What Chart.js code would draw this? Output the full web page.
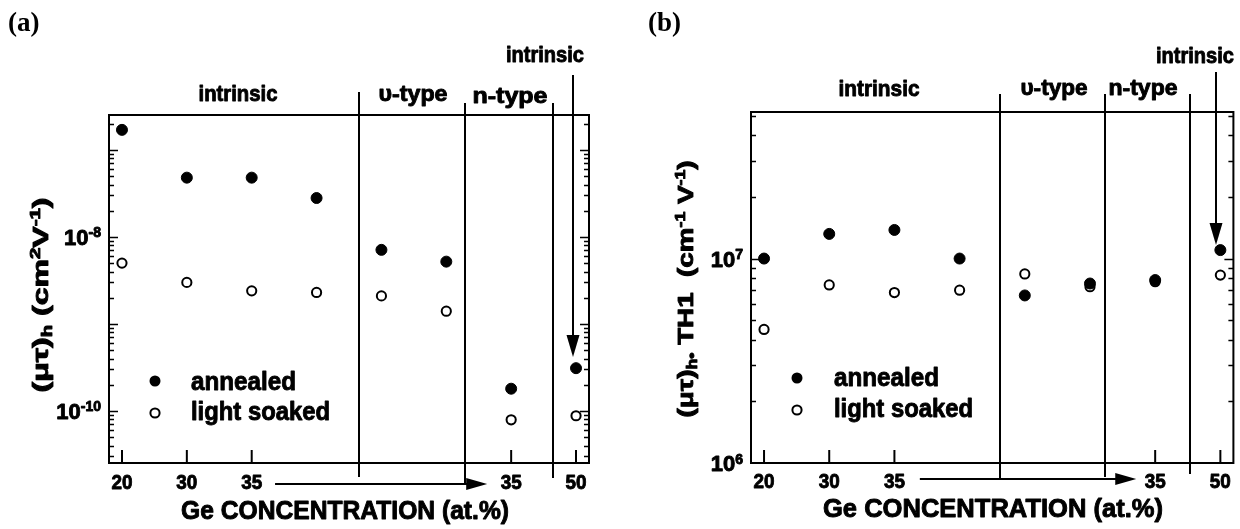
<!DOCTYPE html>
<html>
<head>
<meta charset="utf-8">
<script src="https://cdn.jsdelivr.net/npm/chart.js@4.4.1/dist/chart.umd.min.js"></script>
<style>
  html, body { margin: 0; padding: 0; background: #fff; }
  #wrap { position: relative; width: 1240px; height: 529px; overflow: hidden; }
  .panel { position: absolute; top: 0; width: 620px; height: 529px; }
  canvas { display: block; }
</style>
</head>
<body>
<div id="wrap">
  <div class="panel" style="left:0"><canvas id="chartA" width="620" height="529"></canvas></div>
  <div class="panel" style="left:620px"><canvas id="chartB" width="620" height="529"></canvas></div>
</div>
<script>
// Samples in deposition order along the x axis
const sampleIndex = [0, 1, 2, 3, 4, 5, 6, 7];
const xTickLabels = ['20', '30', '35', '', '', '', '35', '50'];
const seriesNames = ['annealed', 'light soaked'];

// (a) hole mobility-lifetime product (cm^2 V^-1)
const annealedA = [1.7e-7, 4.8e-8, 4.8e-8, 2.8e-8, 7.1e-9, 5.2e-9, 1.8e-10, 3.1e-10];
const soakedA   = [5.0e-9, 3.0e-9, 2.4e-9, 2.3e-9, 2.1e-9, 1.4e-9, 7.9e-11, 8.8e-11];
const yTickExpA = [-8, -10];

// (b) mu-tau product divided by thickness (cm^-1 V^-1)
const annealedB = [1.0e7, 1.32e7, 1.38e7, 1.0e7, 6.6e6, 7.55e6, 7.85e6, 1.1e7];
const soakedB   = [4.5e6, 7.43e6, 6.82e6, 7.0e6, 8.41e6, 7.28e6, 7.7e6, 8.3e6];
const yTickExpB = [7, 6];

// Boundaries between doping regions, in sample-index units
const regionNames = ['intrinsic', 'υ-type', 'n-type'];
const boundsA = [3.65, 5.29, 6.65];
const boundsB = [3.615, 5.224, 6.54];
// the last sample is intrinsic again
const lastIntrinsicA = 6.95;
const lastIntrinsicB = 6.94;
// horizontal arrow under the axis: the 35 at.% series continues
const seqArrowA = [2.36, 5.63];
const seqArrowB = [2.39, 5.71];

const FAMILY = "'Liberation Sans', Arial, Helvetica, sans-serif";

// Draws a run of normal / superscript / subscript pieces, optionally squeezed to a width
function drawRich(ctx, parts, o) {
  const size = o.size;
  const small = Math.round(size * (o.small || 0.62));
  const fontFor = k => `bold ${k === 'n' ? size : small}px ${FAMILY}`;
  let total = 0;
  const widths = parts.map(([t, k]) => {
    ctx.font = fontFor(k);
    const w = ctx.measureText(t).width;
    total += w;
    return w;
  });
  const sx = o.width ? o.width / total : 1;
  ctx.save();
  ctx.translate(o.x, o.y);
  if (o.rot) ctx.rotate(o.rot);
  ctx.scale(sx, 1);
  let cx = o.align === 'left' ? 0 : o.align === 'right' ? -total : -total / 2;
  ctx.textAlign = 'left';
  ctx.textBaseline = 'alphabetic';
  ctx.fillStyle = '#000';
  ctx.strokeStyle = '#000';
  ctx.lineWidth = 0.9;
  ctx.lineJoin = 'round';
  parts.forEach(([t, k], i) => {
    ctx.font = fontFor(k);
    const dy = k === 'sup' ? -size * (o.rise || 0.36) : k === 'sub' ? size * 0.2 : 0;
    ctx.fillText(t, cx, dy);
    ctx.strokeText(t, cx, dy);
    cx += widths[i];
  });
  ctx.restore();
}

function arrowHead(ctx, tipX, tipY, dir, len, half) {
  ctx.beginPath();
  if (dir === 'down') {
    ctx.moveTo(tipX, tipY);
    ctx.lineTo(tipX - half, tipY - len);
    ctx.lineTo(tipX + half, tipY - len);
  } else {
    ctx.moveTo(tipX, tipY);
    ctx.lineTo(tipX - len, tipY - half);
    ctx.lineTo(tipX - len, tipY + half);
  }
  ctx.closePath();
  ctx.fill();
}

function decorPlugin(p) {
  return {
    id: 'decor' + p.tag,
    afterDraw(chart) {
      const ctx = chart.ctx;
      const a = chart.chartArea;
      const xs = chart.scales.x, ys = chart.scales.y;
      ctx.save();
      ctx.strokeStyle = '#000';
      ctx.fillStyle = '#000';
      ctx.lineCap = 'butt';

      // frame
      ctx.lineWidth = 2;
      ctx.strokeRect(a.left, a.top, a.right - a.left, a.bottom - a.top);

      // logarithmic tick marks on both vertical sides, pointing inwards
      ctx.lineWidth = 1.5;
      const e0 = Math.floor(Math.log10(p.yMin)), e1 = Math.ceil(Math.log10(p.yMax));
      for (let e = e0; e <= e1; e++) {
        for (let k = 1; k <= 9; k++) {
          const v = k * Math.pow(10, e);
          if (v < p.yMin * 1.0001 || v > p.yMax * 0.9999) continue;
          const y = Math.round(ys.getPixelForValue(v)) + 0.5;
          const len = k === 1 ? 9 : 5;
          ctx.beginPath();
          ctx.moveTo(a.left, y); ctx.lineTo(a.left + len, y);
          ctx.moveTo(a.right, y); ctx.lineTo(a.right - len, y);
          ctx.stroke();
        }
      }

      // x tick marks and labels
      ctx.lineWidth = 2;
      xTickLabels.forEach((lab, i) => {
        if (!lab) return;
        const x = xs.getPixelForValue(sampleIndex[i]);
        ctx.beginPath();
        ctx.moveTo(x, a.bottom); ctx.lineTo(x, a.bottom - 13);
        ctx.stroke();
        drawRich(ctx, [[lab, 'n']], { x, y: p.xLabelBase, size: 21, width: 21 });
      });

      // y tick labels
      p.yExp.forEach(ex => {
        const y = ys.getPixelForValue(Math.pow(10, ex));
        drawRich(ctx, [['10', 'n'], [String(ex), 'sup']],
          { x: a.left - 8, y: y + 8, size: 22, small: 0.62, rise: 0.34, align: 'right' });
      });

      // region separators
      ctx.lineWidth = 2;
      p.bounds.forEach((b, i) => {
        const x = Math.round(xs.getPixelForValue(b));
        ctx.beginPath();
        ctx.moveTo(x, p.sepTop[i]); ctx.lineTo(x, p.sepBottom[i]);
        ctx.stroke();
      });

      // arrow to the last, intrinsic sample
      const ax = Math.round(xs.getPixelForValue(p.lastIntrinsic));
      ctx.beginPath();
      ctx.moveTo(ax, p.downArrow[0]); ctx.lineTo(ax, p.downArrow[1] - 10);
      ctx.stroke();
      arrowHead(ctx, ax, p.downArrow[1], 'down', 22, 6.5);

      // horizontal arrow below the axis
      const hx0 = xs.getPixelForValue(p.seqArrow[0]);
      const hx1 = xs.getPixelForValue(p.seqArrow[1]);
      ctx.beginPath();
      ctx.moveTo(hx0, p.seqY); ctx.lineTo(hx1 - 10, p.seqY);
      ctx.stroke();
      arrowHead(ctx, hx1, p.seqY, 'right', 21, 6);

      // region names
      p.regionText.forEach((r, i) => {
        drawRich(ctx, [[regionNames[i], 'n']], { x: r[0], y: r[1], size: 22, width: r[2] });
      });
      drawRich(ctx, [['intrinsic', 'n']], { x: p.topText[0], y: p.topText[1], size: 22, width: p.topText[2] });

      // axis titles
      drawRich(ctx, [['Ge CONCENTRATION (at.%)', 'n']],
        { x: p.xTitle[0], y: p.xTitle[1], size: 25, width: p.xTitle[2] });
      drawRich(ctx, p.yTitleParts,
        { x: p.yTitle[0], y: p.yTitle[1], size: 22, width: p.yTitle[2], rot: -Math.PI / 2, small: 0.65, rise: 0.38 });

      // legend
      const [lx, ly0, ly1, tx, tb0, tb1] = p.legend;
      ctx.beginPath(); ctx.arc(lx, ly0, 5.5, 0, Math.PI * 2); ctx.fill();
      ctx.lineWidth = 2;
      ctx.fillStyle = '#fff';
      ctx.beginPath(); ctx.arc(lx, ly1, 4.6, 0, Math.PI * 2); ctx.fill(); ctx.stroke();
      ctx.fillStyle = '#000';
      drawRich(ctx, [[seriesNames[0], 'n']], { x: tx, y: tb0, size: 26, width: 105, align: 'left' });
      drawRich(ctx, [[seriesNames[1], 'n']], { x: tx, y: tb1, size: 26, width: 139, align: 'left' });

      // panel letter
      ctx.font = "bold 27px 'Liberation Serif', 'Times New Roman', serif";
      ctx.textAlign = 'left';
      ctx.textBaseline = 'alphabetic';
      ctx.fillStyle = '#000';
      ctx.fillText(p.letter, p.letterPos[0], p.letterPos[1]);
      ctx.restore();
    }
  };
}

function makeChart(id, p) {
  const pts = vals => sampleIndex.map((x, i) => ({ x, y: vals[i] }));
  return new Chart(document.getElementById(id), {
    type: 'scatter',
    data: {
      datasets: [
        { label: seriesNames[0], data: pts(p.annealed), pointStyle: 'circle', pointRadius: 5.5,
          backgroundColor: '#000', borderColor: '#000', borderWidth: 1 },
        { label: seriesNames[1], data: pts(p.soaked), pointStyle: 'circle', pointRadius: 4.6,
          backgroundColor: '#fff', borderColor: '#000', borderWidth: 2 }
      ]
    },
    options: {
      responsive: false,
      animation: false,
      devicePixelRatio: 1,
      layout: { padding: p.pad },
      plugins: { legend: { display: false }, tooltip: { enabled: false } },
      scales: {
        x: { type: 'linear', min: -0.2, max: 7.2, display: false },
        y: { type: 'logarithmic', min: p.yMin, max: p.yMax, display: false }
      }
    },
    plugins: [decorPlugin(p)]
  });
}

makeChart('chartA', {
  tag: 'A', letter: '(a)', letterPos: [8, 31],
  annealed: annealedA, soaked: soakedA, yExp: yTickExpA,
  yMin: 2.52e-11, yMax: 2.52e-7,
  pad: { left: 109, right: 31, top: 115, bottom: 66 },
  bounds: boundsA, sepTop: [92, 103, 103], sepBottom: [477, 484, 478],
  lastIntrinsic: lastIntrinsicA, downArrow: [75, 357],
  seqArrow: seqArrowA, seqY: 484,
  xLabelBase: 489,
  regionText: [[238, 101, 79], [413, 101, 69], [510, 103, 75]],
  topText: [545, 62, 78],
  xTitle: [345, 519, 328],
  yTitle: [48, 295, 195],
  yTitleParts: [['(μτ)', 'n'], ['h', 'sub'], [' (cm', 'n'], ['2', 'sup'], ['V', 'n'], ['-1', 'sup'], [')', 'n']],
  legend: [155, 381, 413, 191, 390, 420]
});

makeChart('chartB', {
  tag: 'B', letter: '(b)', letterPos: [28, 31],
  annealed: annealedB, soaked: soakedB, yExp: yTickExpB,
  yMin: 1e6, yMax: 5.21e7,
  pad: { left: 131, right: 6, top: 112, bottom: 66 },
  bounds: boundsB, sepTop: [94, 94, 94], sepBottom: [480, 477, 474],
  lastIntrinsic: lastIntrinsicB, downArrow: [72, 245],
  seqArrow: seqArrowB, seqY: 479,
  xLabelBase: 488,
  regionText: [[259, 96, 81], [434, 95, 67], [523, 95, 69]],
  topText: [575, 63, 78],
  xTitle: [373, 517, 340],
  yTitle: [73, 289, 257],
  yTitleParts: [['(μτ)', 'n'], ['h', 'sub'], ['•', 'sub'], [' TH1  (cm', 'n'], ['-1', 'sup'], [' V', 'n'], ['-1', 'sup'], [')', 'n']],
  legend: [177, 378, 410, 214, 386, 417]
});
</script>
</body>
</html>
